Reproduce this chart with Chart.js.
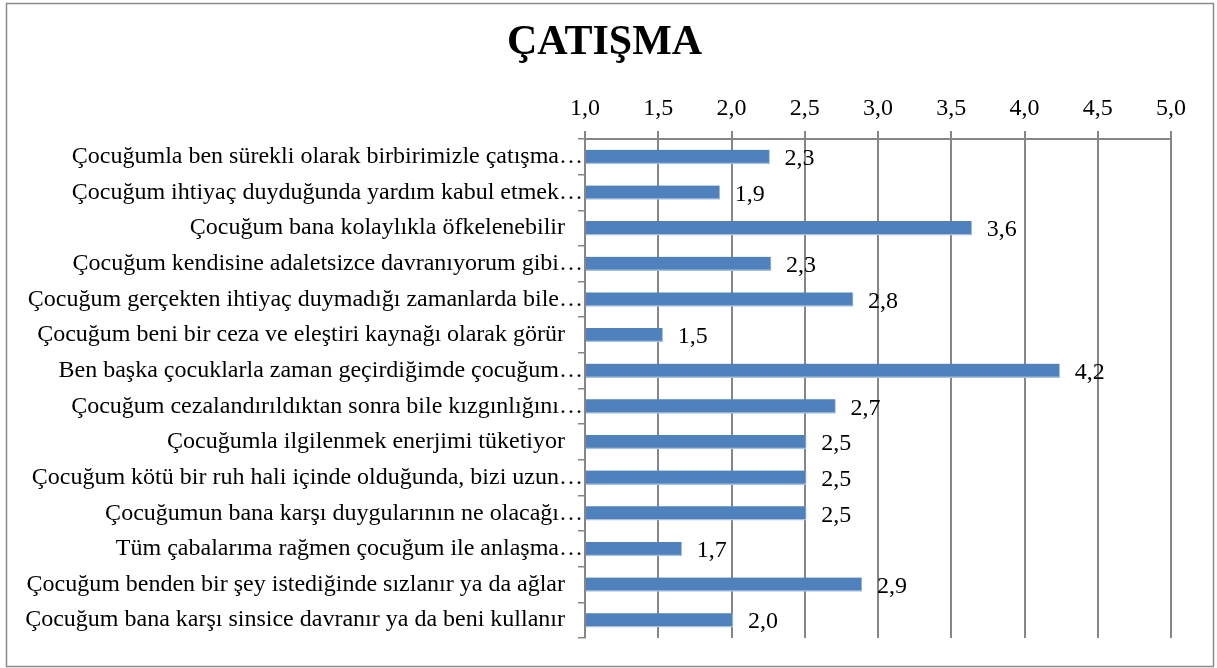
<!DOCTYPE html>
<html>
<head>
<meta charset="utf-8">
<script src="https://cdn.jsdelivr.net/npm/chart.js@4/dist/chart.umd.min.js"></script>
<style>
  html, body { margin: 0; padding: 0; background: #fff; }
  #wrap { width: 1217px; height: 668px; position: relative; }
</style>
</head>
<body>
<div id="wrap"><canvas id="conflictChart"></canvas></div>
<script>
// Survey items (shown as Excel cut them off)
const categories = [
    'Çocuğumla ben sürekli olarak birbirimizle çatışma…',
    'Çocuğum ihtiyaç duyduğunda yardım kabul etmek…',
    'Çocuğum bana kolaylıkla öfkelenebilir   ',
    'Çocuğum kendisine adaletsizce davranıyorum gibi…',
    'Çocuğum gerçekten ihtiyaç duymadığı zamanlarda bile…',
    'Çocuğum beni bir ceza ve eleştiri kaynağı olarak görür   ',
    'Ben başka çocuklarla zaman geçirdiğimde çocuğum…',
    'Çocuğum cezalandırıldıktan sonra bile kızgınlığını…',
    'Çocuğumla ilgilenmek enerjimi tüketiyor   ',
    'Çocuğum kötü bir ruh hali içinde olduğunda, bizi uzun…',
    'Çocuğumun bana karşı duygularının ne olacağı…',
    'Tüm çabalarıma rağmen çocuğum ile anlaşma…',
    'Çocuğum benden bir şey istediğinde sızlanır ya da ağlar   ',
    'Çocuğum bana karşı sinsice davranır ya da beni kullanır   '
];

// Mean scores
const meanScores = [2.26, 1.92, 3.64, 2.27, 2.83, 1.53, 4.24, 2.71, 2.51, 2.51, 2.51, 1.66, 2.89, 2.01];

// Scale range
const axisMin = 1;
const axisMax = 5;
const axisStep = 0.5;

const serif = "'Liberation Serif', 'Times New Roman', serif";

function commaNum(v) {
    return Number(v).toFixed(1).replace('.', ',');
}

// frame around the whole chart
const framePlugin = {
    id: 'frame',
    beforeDraw(chart) {
        const ctx = chart.ctx;
        ctx.save();
        ctx.fillStyle = '#ffffff';
        ctx.fillRect(0, 0, chart.width, chart.height);
        ctx.strokeStyle = '#8a8a8a';
        ctx.lineWidth = 1.5;
        ctx.strokeRect(6.5, 3.5, 1207, 663);
        ctx.restore();
    }
};

// value labels to the right of each bar
const valueLabels = {
    id: 'valueLabels',
    afterDatasetsDraw(chart) {
        const ctx = chart.ctx;
        const meta = chart.getDatasetMeta(0);
        ctx.save();
        ctx.font = '24px ' + serif;
        ctx.fillStyle = '#000';
        ctx.textAlign = 'left';
        ctx.textBaseline = 'middle';
        meta.data.forEach((bar, i) => {
            ctx.fillText(commaNum(meanScores[i]), bar.x + 15, bar.y + 2);
        });
        ctx.restore();
    }
};

const ctx = document.getElementById('conflictChart').getContext('2d');
const conflictChart = new Chart(ctx, {
    type: 'bar',
    data: {
        labels: categories,
        datasets: [{
            data: meanScores,
            base: axisMin,
            backgroundColor: '#4f81bd',
            borderColor: '#a7c0de',
            borderWidth: { top: 0, left: 0, right: 1, bottom: 1.5 },
            borderSkipped: false,
            barThickness: 14
        }]
    },
    options: {
        indexAxis: 'y',
        responsive: true,
        maintainAspectRatio: false,
        animation: false,
        layout: { padding: { left: 0, right: 8, top: 0, bottom: 30 } },
        plugins: {
            legend: { display: false },
            tooltip: { enabled: false },
            title: {
                display: true,
                text: 'ÇATIŞMA',
                color: '#000',
                font: { family: serif, size: 42, weight: 'bold', lineHeight: 1.2 },
                padding: { top: 18, bottom: 0 }
            }
        },
        scales: {
            x: {
                position: 'top',
                min: axisMin,
                max: axisMax,
                afterFit(scale) { scale.height = 70.6; },
                ticks: {
                    stepSize: axisStep,
                    color: '#000',
                    padding: 7.5,
                    font: { family: serif, size: 24 },
                    callback: (v) => commaNum(v)
                },
                grid: {
                    color: '#868686',
                    lineWidth: 2,
                    tickLength: 8
                },
                border: { display: true, color: '#868686', width: 2 }
            },
            y: {
                afterFit(scale) { scale.width = 585; },
                ticks: {
                    color: '#000',
                    padding: -5,
                    autoSkip: false,
                    font: { family: serif, size: 24 }
                },
                grid: {
                    drawOnChartArea: false,
                    color: '#868686',
                    lineWidth: 1.5,
                    tickLength: 7
                },
                border: { display: true, color: '#868686', width: 2 }
            },
            // empty strip on the right so the plot ends where the reference does
            spacer: {
                type: 'linear',
                axis: 'y',
                position: 'right',
                afterFit(scale) { scale.width = 38; },
                ticks: { display: false },
                grid: { display: false },
                border: { display: false }
            }
        }
    },
    plugins: [framePlugin, valueLabels]
});
</script>
</body>
</html>
